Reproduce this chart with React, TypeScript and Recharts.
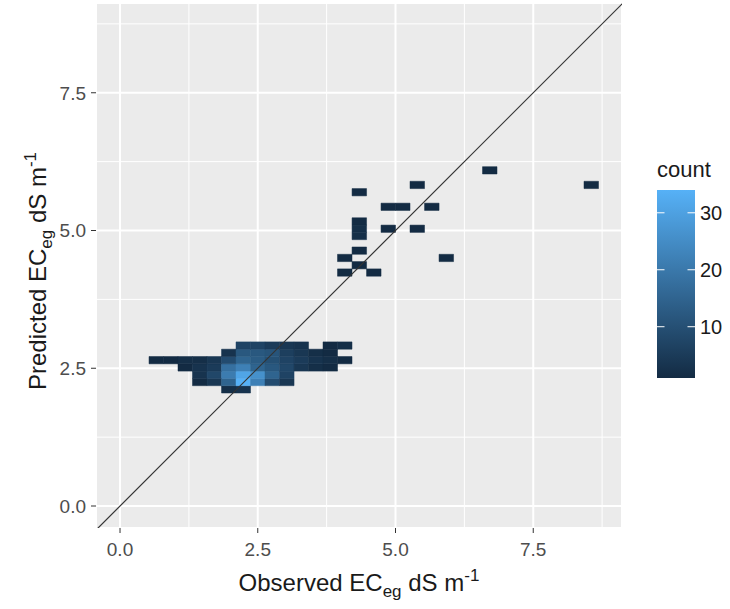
import { ScatterChart, Scatter, XAxis, YAxis, CartesianGrid, ReferenceArea, ReferenceLine } from "recharts";

// geom_bin2d style heatmap: observed vs predicted ECeg, one entry per filled bin (bin centres)
const observed = [
  // 2.117
  1.974, 2.237,
  // 2.250
  1.447, 1.711, 1.974, 2.237, 2.5, 2.763, 3.027,
  // 2.382
  1.447, 1.711, 1.974, 2.237, 2.5, 2.763, 3.027,
  // 2.515
  1.184, 1.447, 1.711, 1.974, 2.237, 2.5, 2.763, 3.027, 3.29, 3.553, 3.816,
  // 2.647
  0.658, 0.921, 1.184, 1.447, 1.711, 1.974, 2.237, 2.5, 2.763, 3.027, 3.29, 3.553, 3.816, 4.079,
  // 2.780
  1.974, 2.237, 2.5, 2.763, 3.027, 3.29, 3.553, 3.816,
  // 2.912
  2.237, 2.5, 2.763, 3.027, 3.29, 3.816, 4.079,
  // upper scatter
  4.079, 4.606, 4.343, 4.079, 5.922, 4.343, 4.343, 4.343, 4.343, 4.869, 5.395,
  4.869, 5.132, 5.659, 4.343, 5.395, 8.553, 6.711,
];

const predicted = [
  2.117, 2.117,
  2.25, 2.25, 2.25, 2.25, 2.25, 2.25, 2.25,
  2.382, 2.382, 2.382, 2.382, 2.382, 2.382, 2.382,
  2.515, 2.515, 2.515, 2.515, 2.515, 2.515, 2.515, 2.515, 2.515, 2.515, 2.515,
  2.647, 2.647, 2.647, 2.647, 2.647, 2.647, 2.647, 2.647, 2.647, 2.647, 2.647, 2.647, 2.647, 2.647,
  2.78, 2.78, 2.78, 2.78, 2.78, 2.78, 2.78, 2.78,
  2.912, 2.912, 2.912, 2.912, 2.912, 2.912, 2.912,
  4.237, 4.237, 4.37, 4.502, 4.502, 4.635, 4.9, 5.032, 5.165, 5.032, 5.032,
  5.43, 5.43, 5.43, 5.695, 5.827, 5.827, 6.092,
];

const counts = [
  2, 3,
  1, 4, 15, 34, 22, 9, 4,
  3, 8, 21, 31, 26, 15, 7,
  1, 3, 5, 18, 22, 15, 12, 8, 4, 2, 1,
  1, 1, 2, 2, 4, 9, 15, 13, 10, 7, 5, 3, 2, 1,
  3, 12, 12, 11, 6, 4, 2, 1,
  7, 7, 5, 4, 3, 1, 2,
  1, 1, 1, 1, 1, 1, 2, 2, 1, 1, 1,
  1, 1, 1, 1, 1, 1, 1,
];

const axisTicks = [0, 2.5, 5, 7.5];
const minorBreaks = [1.25, 3.75, 6.25, 8.75];
const legendTicks = [10, 20, 30];

const BIN_W = 0.263;
const BIN_H = 0.1325;
const X_DOMAIN: [number, number] = [-0.436, 9.111];
const Y_DOMAIN: [number, number] = [-0.399, 9.129];

const LOW = [0x13, 0x2b, 0x43];
const HIGH = [0x56, 0xb1, 0xf7];
const FONT = "'Liberation Sans', Arial, sans-serif";

const cMin = Math.min(...counts);
const cMax = Math.max(...counts);

function fillFor(c: number) {
  const t = (c - cMin) / (cMax - cMin);
  const rgb = LOW.map((lo, k) => Math.round(lo + (HIGH[k] - lo) * t));
  return `rgb(${rgb[0]},${rgb[1]},${rgb[2]})`;
}

const cells = observed.map((x, i) => ({ x, y: predicted[i], count: counts[i] }));

// colour bar box
const BAR = { x: 657, y: 190, w: 38, h: 188 };
const barY = (v: number) => BAR.y + BAR.h - ((v - cMin) / (cMax - cMin)) * BAR.h;

export default function App() {
  return (
    <div style={{ position: "absolute", left: 0, top: 0, width: 730, height: 609, background: "#fff" }}>
      <ScatterChart width={730} height={609} margin={{ top: 3, right: 108, bottom: 41, left: 36 }}>
        <CartesianGrid fill="#EBEBEB" stroke="#fff" strokeWidth={1} verticalValues={minorBreaks} horizontalValues={minorBreaks} />
        <CartesianGrid stroke="#fff" strokeWidth={2} />
        <XAxis
          type="number"
          dataKey="x"
          domain={X_DOMAIN}
          ticks={axisTicks}
          allowDataOverflow
          tickFormatter={(v: number) => v.toFixed(1)}
          axisLine={false}
          tickSize={5}
          tickMargin={10}
          tickLine={{ stroke: "#333" }}
          tick={{ fill: "#4D4D4D", fontSize: 19, fontFamily: FONT }}
          height={40}
        />
        <YAxis
          type="number"
          dataKey="y"
          domain={Y_DOMAIN}
          ticks={axisTicks}
          allowDataOverflow
          tickFormatter={(v: number) => v.toFixed(1)}
          axisLine={false}
          tickSize={5}
          tickMargin={5}
          tickLine={{ stroke: "#333" }}
          tick={{ fill: "#4D4D4D", fontSize: 19, fontFamily: FONT }}
          width={60}
        />
        {cells.map((c, i) => (
          <ReferenceArea
            key={i}
            x1={c.x - BIN_W / 2}
            x2={c.x + BIN_W / 2}
            y1={c.y - BIN_H / 2}
            y2={c.y + BIN_H / 2}
            fill={fillFor(c.count)}
            fillOpacity={1}
            stroke={fillFor(c.count)}
            strokeWidth={0.5}
          />
        ))}
        <ReferenceLine
          segment={[{ x: -1, y: -1 }, { x: 10, y: 10 }]}
          ifOverflow="hidden"
          stroke="#333"
          strokeWidth={1.2}
        />
        <Scatter data={cells} isAnimationActive={false} shape={() => <g />} />
      </ScatterChart>

      <svg width={730} height={609} style={{ position: "absolute", left: 0, top: 0, pointerEvents: "none" }} fontFamily={FONT}>
        {/* axis titles */}
        <text x={359} y={591} textAnchor="middle" fontSize={24} fill="#1a1a1a">
          Observed EC<tspan dy={6} fontSize={17}>eg</tspan>
          <tspan dy={-6}> dS m</tspan>
          <tspan dy={-10} fontSize={17}>-1</tspan>
        </text>
        <text transform="translate(46,271) rotate(-90)" textAnchor="middle" fontSize={24} fill="#1a1a1a">
          Predicted EC<tspan dy={6} fontSize={17}>eg</tspan>
          <tspan dy={-6}> dS m</tspan>
          <tspan dy={-10} fontSize={17}>-1</tspan>
        </text>

        {/* colour bar legend */}
        <defs>
          <linearGradient id="countGrad" x1="0" y1="1" x2="0" y2="0">
            <stop offset="0%" stopColor={fillFor(cMin)} />
            <stop offset="50%" stopColor={fillFor((cMin + cMax) / 2)} />
            <stop offset="100%" stopColor={fillFor(cMax)} />
          </linearGradient>
        </defs>
        <text x={657} y={177} fontSize={22} fill="#1a1a1a">count</text>
        <rect x={BAR.x} y={BAR.y} width={BAR.w} height={BAR.h} fill="url(#countGrad)" />
        {legendTicks.map((t) => (
          <g key={t}>
            <line x1={BAR.x} x2={BAR.x + 7.5} y1={barY(t)} y2={barY(t)} stroke="#fff" strokeWidth={1} />
            <line x1={BAR.x + BAR.w - 7.5} x2={BAR.x + BAR.w} y1={barY(t)} y2={barY(t)} stroke="#fff" strokeWidth={1} />
            <text x={700} y={barY(t)} dy="0.36em" fontSize={20} fill="#1a1a1a">{t}</text>
          </g>
        ))}
      </svg>
    </div>
  );
}
